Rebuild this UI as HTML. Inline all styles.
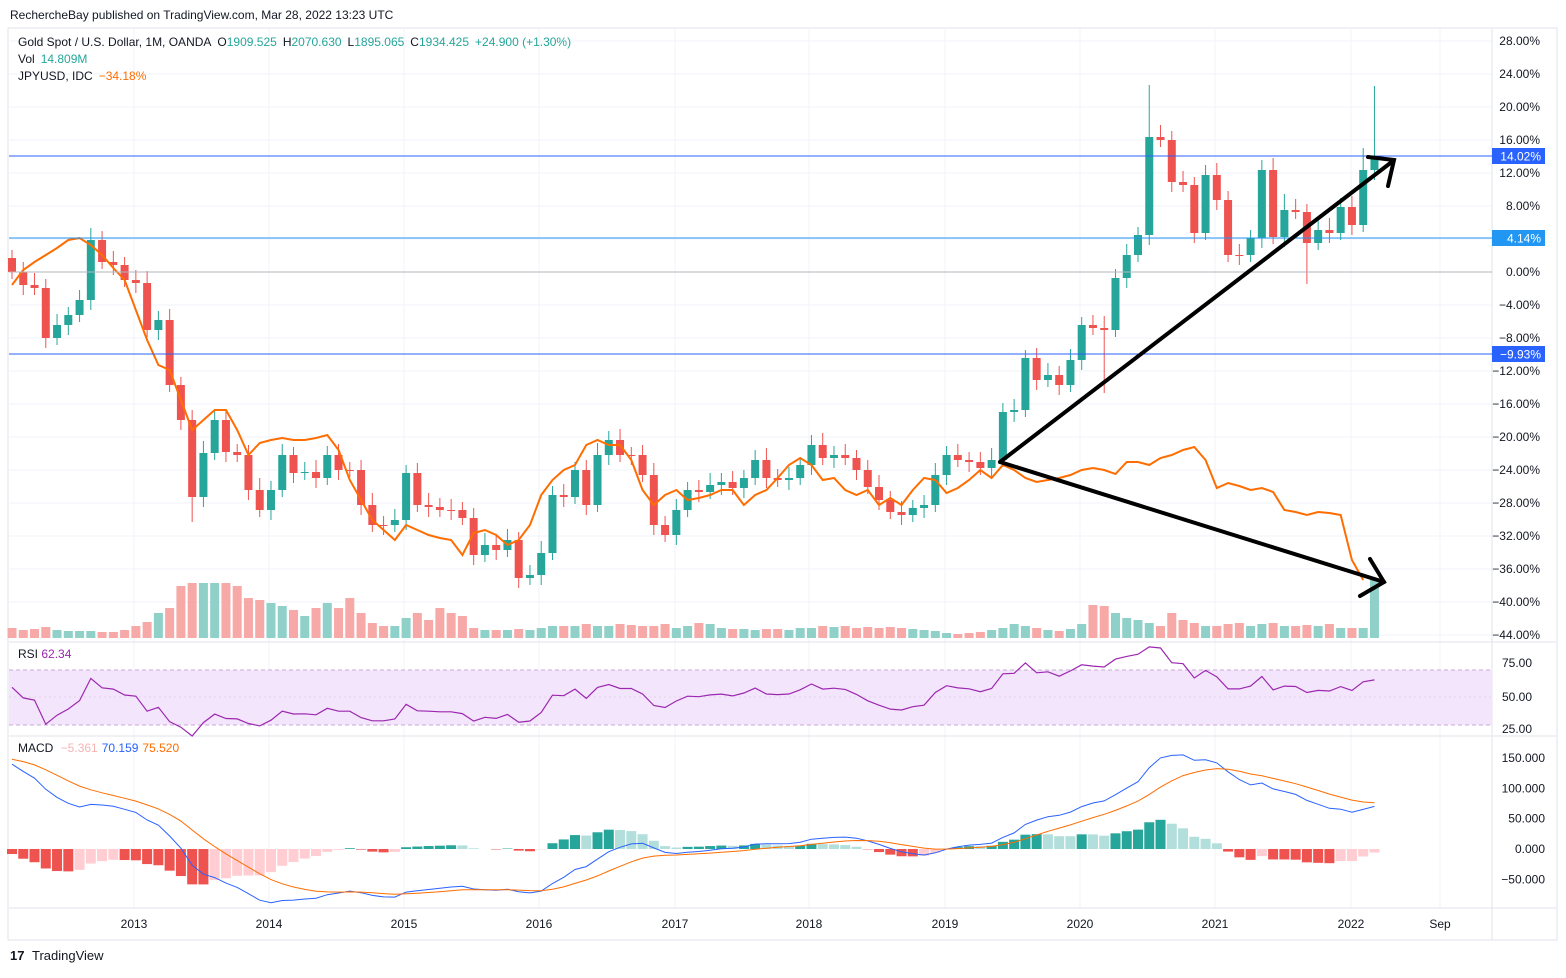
<!DOCTYPE html>
<html><head><meta charset="utf-8"><style>
body{margin:0;background:#fff;font-family:"Liberation Sans",sans-serif;}
svg text{font-family:"Liberation Sans",sans-serif;}
</style></head><body>
<svg id="s" width="1566" height="973" xmlns="http://www.w3.org/2000/svg"></svg>
<script>
const S=document.getElementById('s');let h='';
const X=i=>10+i*11.26+2;
const yrs=[['2013',134],['2014',269],['2015',404],['2016',539],['2017',675],['2018',809],['2019',945],['2020',1080],['2021',1215],['2022',1351],['Sep',1440]];
h+=`<rect x="8" y="28" width="1549" height="912" fill="none" stroke="#e0e3eb"/>`;
yrs.forEach(([t,x])=>{h+=`<line x1="${x}" y1="29" x2="${x}" y2="908" stroke="#f0f3fa"/>`;});
for(let p=28;p>=-44;p-=4){const y=272-8.25*p;h+=`<line x1="9" y1="${y}" x2="1492" y2="${y}" stroke="#f0f3fa"/>`;
 if(Math.abs(y-156)>8&&Math.abs(y-238)>8&&Math.abs(y-354)>8)h+=`<text x="1540" y="${y+4}" font-size="12" text-anchor="end" fill="#131722">${p<0?'−':''}${Math.abs(p).toFixed(2)}%</text>`;}
[642,736,908].forEach(y=>h+=`<line x1="9" y1="${y}" x2="1556" y2="${y}" stroke="#e0e3eb"/>`);
h+=`<line x1="1492" y1="29" x2="1492" y2="940" stroke="#e0e3eb"/>`;
const C=[272,285,288,338,325,315,300,240,262,265,280,283,330,320,385,420,497,453,420,452,455,490,510,490,455,473,472,478,455,470,470,505,525,525,520,473,505,507,510,510,518,555,545,550,540,578,575,553,495,497,470,505,455,440,455,455,475,525,535,510,490,492,485,482,488,478,460,478,480,478,465,445,458,455,458,470,487,500,512,515,508,505,475,455,460,462,468,460,412,410,358,380,375,385,360,325,328,330,278,255,235,137,140,182,185,233,175,200,255,255,238,170,237,210,212,243,230,233,207,225,170,156];
const V=[10,8,9,11,8,7,7,7,6,6,8,12,16,25,30,52,55,55,55,55,52,40,38,35,32,28,22,30,35,30,40,25,15,12,12,20,25,18,30,25,22,10,8,8,8,9,8,10,12,12,12,14,12,12,14,13,12,12,14,10,12,15,14,10,9,9,8,9,9,8,10,10,12,11,12,10,11,10,11,10,9,8,7,5,4,5,6,8,10,14,12,10,8,7,9,14,33,32,25,20,18,15,12,25,18,15,12,12,14,15,12,14,15,12,12,13,12,14,10,10,10,58,153];
let o=258;
C.forEach((c,i)=>{const g=c<o,vc=g?'#8fd1c9':'#f7a9a7',x=X(i);
 const hv=V[i]||8;h+=`<rect x="${x-4.5}" y="${638-hv}" width="9" height="${hv}" fill="${vc}"/>`;o=c;});
o=258;
C.forEach((c,i)=>{const g=c<o,col=g?'#26a69a':'#ef5350',x=X(i);const t=Math.min(o,c),b=Math.max(o,c);
 const up=(i==101?50:i==120?22:i==121?68:i==113?15:8)+(i*7%5),dn=(i==97?60:i==115?38:i==16?25:7)+(i*3%6);
 h+=`<line x1="${x}" y1="${t-up}" x2="${x}" y2="${b+dn}" stroke="${col}"/>`;
 h+=`<rect x="${x-4}" y="${t}" width="8" height="${Math.max(1,b-t)}" fill="${col}"/>`;o=c;});
const J=[285,270,262,255,248,240,238,245,255,268,280,310,340,365,370,400,430,420,410,410,430,455,443,440,438,440,440,438,435,450,480,500,520,530,540,525,530,535,538,540,555,533,530,535,545,540,525,495,480,470,465,445,440,445,445,460,490,505,495,490,500,498,495,490,490,505,495,490,478,465,458,465,480,478,490,495,490,505,498,505,490,478,480,493,488,480,470,478,465,470,478,482,480,478,475,470,468,470,474,462,462,465,458,455,450,447,460,488,483,486,490,488,492,510,512,515,512,513,515,560,580];
h+=`<polyline fill="none" stroke="#ff6d00" stroke-width="2" points="${J.map((y,i)=>X(i)+','+y).join(' ')}"/>`;
h+=`<line x1="9" y1="272" x2="1492" y2="272" stroke="#b2b5be"/>`;
[[156,'#2962ff','14.02%'],[238,'#2196f3','4.14%'],[354,'#2962ff','−9.93%']].forEach(([y,c,t])=>{h+=`<line x1="9" y1="${y}" x2="1492" y2="${y}" stroke="${c}"/><rect x="1492" y="${y-8}" width="53" height="16" fill="${c}"/><text x="1541" y="${y+4.5}" font-size="12" text-anchor="end" fill="#fff">${t}</text>`;});
h+=`<g stroke="#000" stroke-width="4" fill="none" stroke-linecap="round"><line x1="1000" y1="462" x2="1393" y2="161"/><polyline points="1368,157 1394,160 1388,186"/><line x1="1000" y1="462" x2="1384" y2="582"/><polyline points="1370,559 1384,582 1360,596"/></g>`;
h+=`<rect x="9" y="670" width="1483" height="55" fill="#f3e5fb"/><line x1="9" y1="670" x2="1492" y2="670" stroke="#c8a9d6" stroke-dasharray="4,3"/><line x1="9" y1="725" x2="1492" y2="725" stroke="#c8a9d6" stroke-dasharray="4,3"/><line x1="9" y1="697" x2="1492" y2="697" stroke="#e3d3ea" stroke-dasharray="2,3"/>`;
const P=C.map(y=>1696*(1+(272-y)/8.25/100));
let ag=8,al=6;const R=[];
P.forEach((p,i)=>{const d=i?p-P[i-1]:0;ag=(ag*13+Math.max(d,0))/14;al=(al*13+Math.max(-d,0))/14;R.push(100-100/(1+ag/al));});
h+=`<polyline fill="none" stroke="#9c27b0" stroke-width="1.2" points="${R.map((v,i)=>X(i)+','+(697-(v-50)*1.36).toFixed(1)).join(' ')}"/>`;
[['75.00',667],['50.00',701],['25.00',733]].forEach(([t,y])=>h+=`<text x="1532" y="${y}" font-size="12" text-anchor="end" fill="#131722">${t}</text>`);
h+=`<text x="18" y="658" font-size="12" fill="#131722">RSI <tspan fill="#9c27b0">62.34</tspan></text>`;
let e12=P[0]-10,e26=P[0]-160,sg=150;const M=[],Sg=[];
P.forEach(p=>{e12+=(p-e12)*2/13;e26+=(p-e26)*2/27;const m=e12-e26;sg+=(m-sg)*0.2;M.push(m);Sg.push(sg);});
const my=v=>849-v*0.607;let prev=0;
M.forEach((m,i)=>{const d=m-Sg[i];const col=d>=0?(d>=prev?'#26a69a':'#b2dfdb'):(d<=prev?'#ef5350':'#ffcdd2');prev=d;
 h+=`<rect x="${X(i)-5}" y="${Math.min(my(d),849)}" width="10" height="${Math.abs(d*0.607)}" fill="${col}"/>`;});
h+=`<polyline fill="none" stroke="#2962ff" points="${M.map((v,i)=>X(i)+','+my(v).toFixed(1)).join(' ')}"/>`;
h+=`<polyline fill="none" stroke="#ff6d00" points="${Sg.map((v,i)=>X(i)+','+my(v).toFixed(1)).join(' ')}"/>`;
[['150.000',150],['100.000',100],['50.000',50],['0.000',0],['−50.000',-50]].forEach(([t,v])=>h+=`<text x="1545" y="${my(v)+4}" font-size="12" text-anchor="end" fill="#131722">${t}</text>`);
h+=`<text x="18" y="752" font-size="12" fill="#131722">MACD <tspan dx="4" fill="#f7b3b3">−5.361</tspan><tspan dx="4" fill="#2962ff">70.159</tspan><tspan dx="4" fill="#ff6d00">75.520</tspan></text>`;
yrs.forEach(([t,x])=>h+=`<text x="${x}" y="928" font-size="12" text-anchor="middle" fill="#131722">${t}</text>`);
h+=`<text x="10" y="19" font-size="12" fill="#131722">RechercheBay published on TradingView.com, Mar 28, 2022 13:23 UTC</text>`;
h+=`<text x="18" y="46" font-size="12" fill="#131722">Gold Spot / U.S. Dollar, 1M, OANDA<tspan dx="6">O</tspan><tspan fill="#26a69a">1909.525</tspan><tspan dx="6">H</tspan><tspan fill="#26a69a">2070.630</tspan><tspan dx="6">L</tspan><tspan fill="#26a69a">1895.065</tspan><tspan dx="6">C</tspan><tspan fill="#26a69a">1934.425</tspan><tspan dx="6" fill="#26a69a">+24.900 (+1.30%)</tspan></text>`;
h+=`<text x="18" y="63" font-size="12" fill="#131722">Vol<tspan dx="6" fill="#26a69a">14.809M</tspan></text>`;
h+=`<text x="18" y="80" font-size="12" fill="#131722">JPYUSD, IDC<tspan dx="6" fill="#ff6d00">−34.18%</tspan></text>`;
h+=`<text x="10" y="960" font-size="13" font-weight="bold" fill="#131722">17</text><text x="32" y="960" font-size="13" fill="#131722">TradingView</text>`;
S.innerHTML=h;
</script>
</body></html>
